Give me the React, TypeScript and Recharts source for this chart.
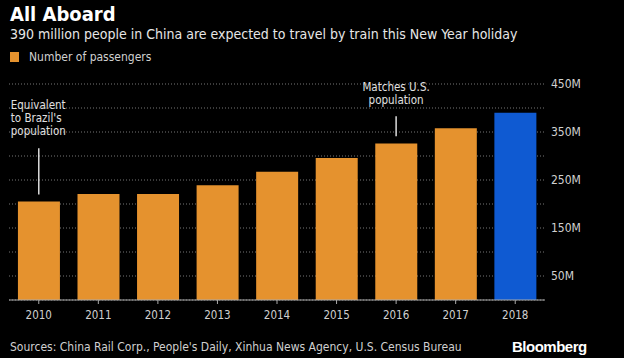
import { BarChart, Bar, Cell, XAxis, YAxis, CartesianGrid, ReferenceLine } from "recharts";

const years = ["2010", "2011", "2012", "2013", "2014", "2015", "2016", "2017", "2018"];
const passengers = [205, 221, 221, 239, 267, 296, 326, 358, 390];
const yTicks = [0, 50, 100, 150, 200, 250, 300, 350, 400, 450];
const labeledTicks = [50, 150, 250, 350, 450];

const data = years.map((year, i) => ({ year, passengers: passengers[i] }));

const FONT = '"Liberation Sans Narrow", "DejaVu Sans Condensed", sans-serif';
const ORANGE = "#E5922E";
const BLUE = "#0F5AD2";

const brazilLabel = (props: any) => {
  const { x, y } = props.viewBox;
  const lines = ["Equivalent", "to Brazil's", "population"];
  return (
    <g>
      {lines.map((l, i) => (
        <text key={i} x={x - 28} y={y - 43 + i * 13} dy="0.35em" fill="#e0e0e0" fontSize={11.5} fontFamily={FONT}>
          {l}
        </text>
      ))}
    </g>
  );
};

const usLabel = (props: any) => {
  const { x, y } = props.viewBox;
  const lines = ["Matches U.S.", "population"];
  return (
    <g>
      {lines.map((l, i) => (
        <text key={i} x={x} y={y - 29 + i * 13} dy="0.35em" textAnchor="middle" fill="#e0e0e0" fontSize={11.5} fontFamily={FONT}>
          {l}
        </text>
      ))}
    </g>
  );
};

export default function App() {
  return (
    <div style={{ position: "absolute", left: 0, top: 0, width: 624, height: 358, background: "#000", fontFamily: FONT, overflow: "hidden" }}>
      <div style={{ position: "absolute", left: 10, top: 2, color: "#fff", fontSize: 20, fontWeight: "bold" }}>
        All Aboard
      </div>
      <div style={{ position: "absolute", left: 10, top: 26, color: "#e6e6e6", fontSize: 14 }}>
        390 million people in China are expected to travel by train this New Year holiday
      </div>
      <div style={{ position: "absolute", left: 10, top: 50, display: "flex", alignItems: "center", color: "#d0d0d0", fontSize: 12 }}>
        <span style={{ display: "inline-block", width: 9, height: 10, background: ORANGE, marginRight: 10 }} />
        Number of passengers
      </div>
      <div style={{ position: "absolute", left: 10, top: 340, color: "#d0d0d0", fontSize: 12 }}>
        Sources: China Rail Corp., People's Daily, Xinhua News Agency, U.S. Census Bureau
      </div>
      <div style={{ position: "absolute", left: 512, top: 338, color: "#fff", fontSize: 15, fontWeight: "bold", fontFamily: '"Liberation Sans", sans-serif', letterSpacing: -0.5 }}>
        Bloomberg
      </div>
      <div style={{ position: "absolute", left: 0, top: 0 }}>
        <BarChart width={624} height={358} data={data} margin={{ top: 84, right: 9, left: 9, bottom: 28 }} barCategoryGap="15%">
          <CartesianGrid vertical={false} stroke="#777" strokeDasharray="1 2" />
          <XAxis
            dataKey="year"
            height={30}
            stroke="#aaa"
            tickSize={4}
            tickMargin={7}
            tick={{ fill: "#d0d0d0", fontSize: 11.5, fontFamily: FONT }}
          />
          <YAxis
            orientation="right"
            width={70}
            domain={[0, 450]}
            ticks={yTicks}
            interval={0}
            axisLine={false}
            tickLine={false}
            tickSize={0}
            tickMargin={6}
            tickFormatter={(v: number) => (labeledTicks.includes(v) ? `${v}M` : "")}
            tick={{ fill: "#d0d0d0", fontSize: 12, fontFamily: FONT, textAnchor: "start" }}
          />
          <Bar dataKey="passengers" isAnimationActive={false}>
            {data.map((d, i) => (
              <Cell key={d.year} fill={i === data.length - 1 ? BLUE : ORANGE} />
            ))}
          </Bar>
          <ReferenceLine
            segment={[{ x: "2010", y: 220 }, { x: "2010", y: 316 }]}
            stroke="#ddd"
            strokeWidth={1.5}
            ifOverflow="visible"
            label={brazilLabel}
          />
          <ReferenceLine
            segment={[{ x: "2016", y: 341 }, { x: "2016", y: 383 }]}
            stroke="#ddd"
            strokeWidth={1.5}
            ifOverflow="visible"
            label={usLabel}
          />
        </BarChart>
      </div>
    </div>
  );
}
